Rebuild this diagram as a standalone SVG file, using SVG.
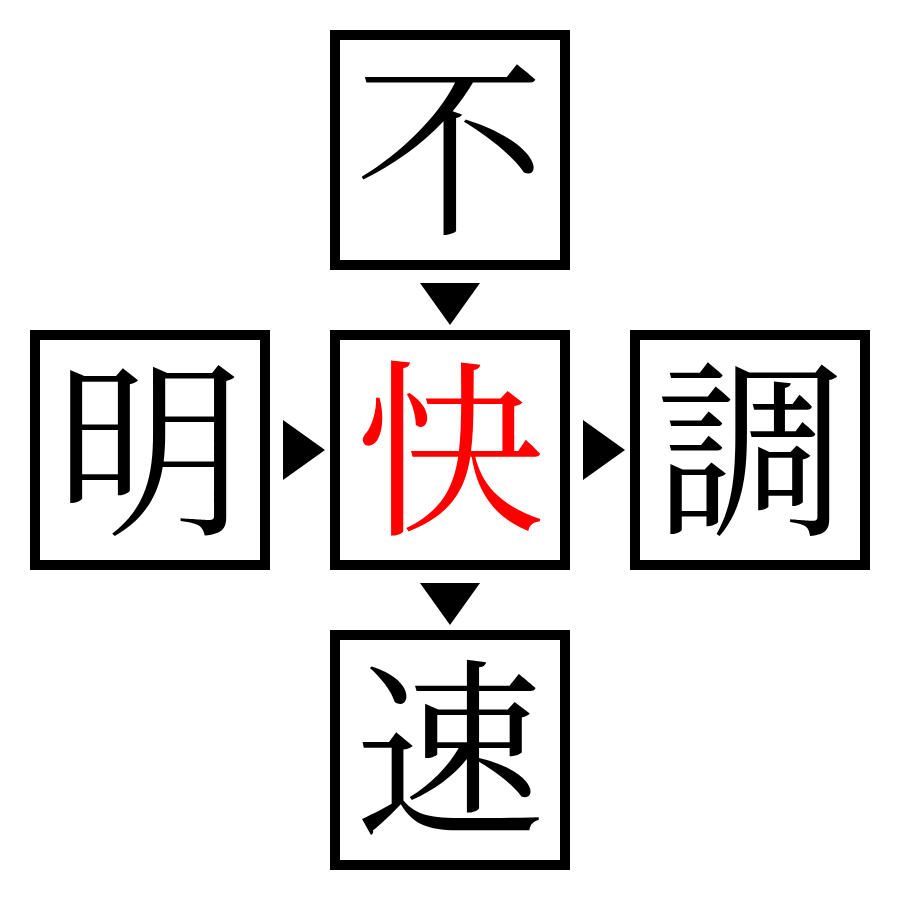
<svg xmlns="http://www.w3.org/2000/svg" width="900" height="900" viewBox="0 0 900 900">
<style>
.box{fill:#fff;stroke:#000;stroke-width:10}
.ch{font-family:"Noto Serif CJK JP","Noto Sans CJK JP",serif;font-size:190px;text-anchor:middle;fill:#000}
.red{fill:#ff0000}
.arr{fill:#000}
</style>
<rect width="900" height="900" fill="#fff"/>
<g id="top"><rect class="box" x="335" y="35" width="230" height="230"/><text class="ch" x="450" y="220">不</text></g>
<g id="left"><rect class="box" x="35" y="335" width="230" height="230"/><text class="ch" x="150" y="520">明</text></g>
<g id="center"><rect class="box" x="335" y="335" width="230" height="230"/><text class="ch red" x="450" y="520">快</text></g>
<g id="right"><rect class="box" x="635" y="335" width="230" height="230"/><text class="ch" x="750" y="520">調</text></g>
<g id="bottom"><rect class="box" x="335" y="635" width="230" height="230"/><text class="ch" x="450" y="820">速</text></g>
<g id="connectors">
<polygon class="arr" points="420,283 480,283 450,325"/>
<polygon class="arr" points="283,420 325,450 283,480"/>
<polygon class="arr" points="583,420 625,450 583,480"/>
<polygon class="arr" points="420,583 480,583 450,625"/>
</g>
</svg>
